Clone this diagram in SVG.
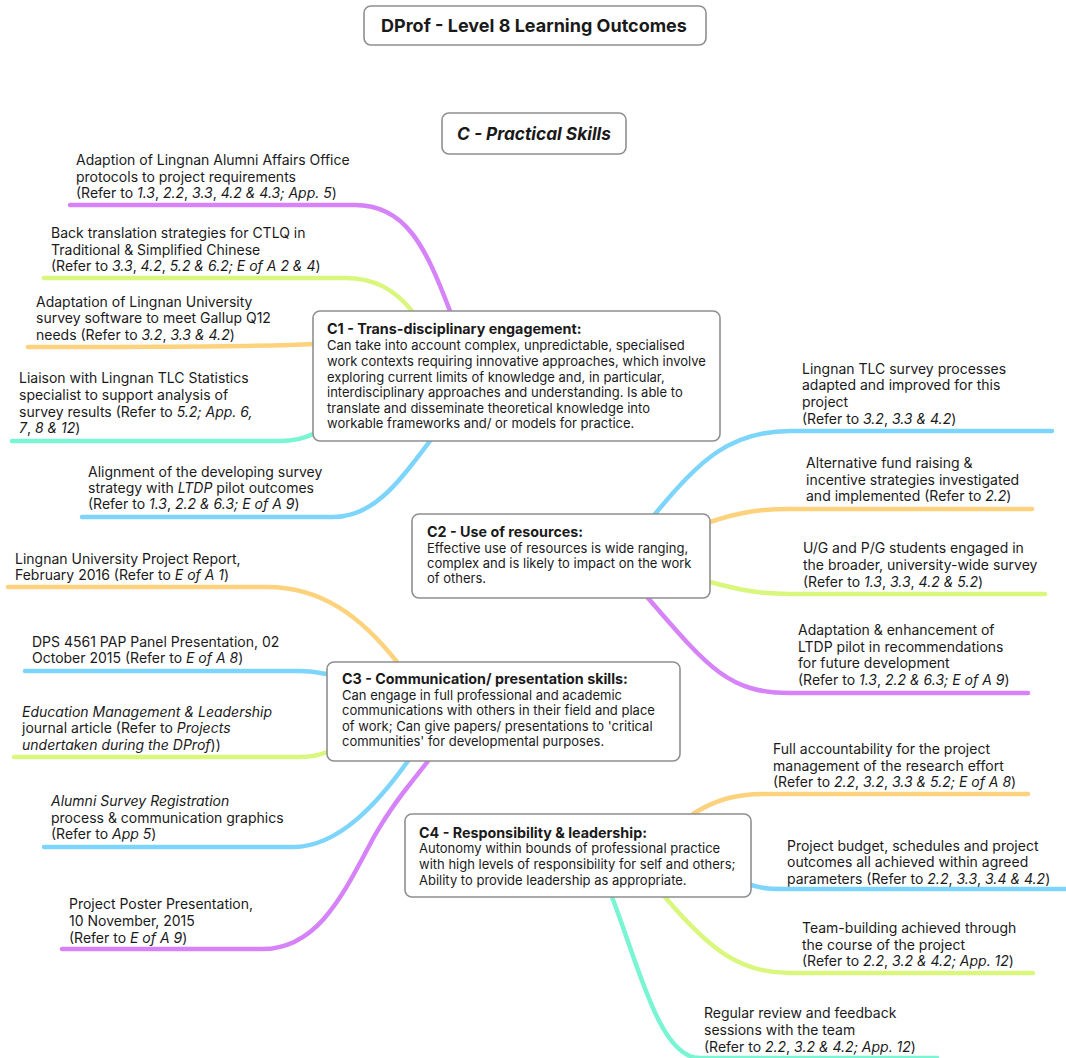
<svg xmlns="http://www.w3.org/2000/svg" width="1066" height="1058" viewBox="0 0 1066 1058">
  <style>
    text { font-family: Inter, "Liberation Sans", Arial, sans-serif; fill: #1a1a1a; }
    .leaf { font-size: 14px; }
    .body { font-size: 13px; }
    .head { font-size: 14.3px; font-weight: bold; }
    .top { font-size: 18px; font-weight: bold; }
    .sub { font-size: 17.3px; font-weight: bold; font-style: italic; }
    .i { font-style: italic; }
    .box { fill: #ffffff; stroke: #8f8f8f; stroke-width: 1.6; }
    .ln { fill: none; stroke-width: 4.5; stroke-linecap: round; }
    .purple { stroke: #d683f9; }
    .green { stroke: #d8f77c; }
    .orange { stroke: #fdd27c; }
    .teal { stroke: #79f5d4; }
    .blue { stroke: #7dd5fb; }
  </style>
  <rect width="1066" height="1058" fill="#ffffff"/>

  <!-- branch lines -->
  <g id="connectors">
    <path class="ln purple" d="M70,205 H355 C405,205 425,245 450,311"/>
    <path class="ln green" d="M44,278 H345 C375,278 395,290 412,311"/>
    <path class="ln orange" d="M28,347 C200,347 280,346 313,344"/>
    <path class="ln teal" d="M12,441 H280 C295,441 305,438 313,434"/>
    <path class="ln blue" d="M82,517 H333 C375,517 400,480 430,441"/>
    <path class="ln blue" d="M655,514 C700,460 730,431 790,431 H1052"/>
    <path class="ln orange" d="M710,522 C740,512 760,509 790,509 H1032"/>
    <path class="ln green" d="M710,582 C740,590 760,594 790,594 H1045"/>
    <path class="ln purple" d="M648,598 C710,670 730,693 790,693 H1028"/>
    <path class="ln orange" d="M8,587 H267 C320,587 360,615 397,662"/>
    <path class="ln blue" d="M25,671 H300 C312,671 320,673 327,674"/>
    <path class="ln green" d="M14,757 H300 C312,757 320,755 327,752"/>
    <path class="ln blue" d="M44,847 H293 C340,847 380,800 408,761"/>
    <path class="ln purple" d="M62,949 H262 C320,949 345,890 375,835 C395,800 410,785 428,761"/>
    <path class="ln orange" d="M693,814 C715,800 735,794 765,794 H1028"/>
    <path class="ln blue" d="M751,885 C765,889 770,889 790,889 H1066"/>
    <path class="ln green" d="M665,897 C710,950 740,973 790,973 H1033"/>
    <path class="ln teal" d="M612,897 C640,970 660,1058 700,1058 H937"/>
  </g>

  <g id="title">
    <rect class="box" x="364" y="6" width="342" height="39" rx="7"/>
    <text class="top" x="534" y="32" text-anchor="middle">DProf - Level 8 Learning Outcomes</text>
  </g>

  <g id="practical-skills">
    <rect class="box" x="442" y="113" width="184" height="41" rx="7"/>
    <text class="sub" x="534" y="140" text-anchor="middle">C - Practical Skills</text>
  </g>

  <g id="c1">
    <rect class="box" x="313" y="311" width="407" height="130" rx="7"/>
    <text class="head" x="327" y="334">C1 - Trans-disciplinary engagement:</text>
    <text class="body" x="327">
      <tspan x="327" y="350">Can take into account complex, unpredictable, specialised</tspan>
      <tspan x="327" y="366">work contexts requiring innovative approaches, which involve</tspan>
      <tspan x="327" y="382">exploring current limits of knowledge and, in particular,</tspan>
      <tspan x="327" y="397">interdisciplinary approaches and understanding. Is able to</tspan>
      <tspan x="327" y="413">translate and disseminate theoretical knowledge into</tspan>
      <tspan x="327" y="428">workable frameworks and/ or models for practice.</tspan>
    </text>
  </g>

  <g id="c2">
    <rect class="box" x="412" y="514" width="298" height="84" rx="7"/>
    <text class="head" x="427" y="537">C2 - Use of resources:</text>
    <text class="body">
      <tspan x="427" y="553">Effective use of resources is wide ranging,</tspan>
      <tspan x="427" y="568">complex and is likely to impact on the work</tspan>
      <tspan x="427" y="583">of others.</tspan>
    </text>
  </g>

  <g id="c3">
    <rect class="box" x="327" y="662" width="353" height="99" rx="7"/>
    <text class="head" x="342" y="684">C3 - Communication/ presentation skills:</text>
    <text class="body">
      <tspan x="342" y="700">Can engage in full professional and academic</tspan>
      <tspan x="342" y="715">communications with others in their field and place</tspan>
      <tspan x="342" y="731">of work; Can give papers/ presentations to 'critical</tspan>
      <tspan x="342" y="746">communities' for developmental purposes.</tspan>
    </text>
  </g>

  <g id="c4">
    <rect class="box" x="405" y="814" width="346" height="83" rx="7"/>
    <text class="head" x="419" y="838">C4 - Responsibility &amp; leadership:</text>
    <text class="body">
      <tspan x="419" y="853">Autonomy within bounds of professional practice</tspan>
      <tspan x="419" y="869">with high levels of responsibility for self and others;</tspan>
      <tspan x="419" y="885">Ability to provide leadership as appropriate.</tspan>
    </text>
  </g>

  <g id="c1-alumni-protocols">
    <text class="leaf">
      <tspan x="76" y="165">Adaption of Lingnan Alumni Affairs Office</tspan>
      <tspan x="76" y="182">protocols to project requirements</tspan>
      <tspan x="76" y="198">(Refer to <tspan class="i">1.3</tspan>, <tspan class="i">2.2</tspan>, <tspan class="i">3.3</tspan>, <tspan class="i">4.2 &amp; 4.3; App. 5</tspan>)</tspan>
    </text>
  </g>

  <g id="c1-back-translation">
    <text class="leaf">
      <tspan x="51" y="238">Back translation strategies for CTLQ in</tspan>
      <tspan x="51" y="255">Traditional &amp; Simplified Chinese</tspan>
      <tspan x="51" y="271">(Refer to <tspan class="i">3.3</tspan>, <tspan class="i">4.2</tspan>, <tspan class="i">5.2 &amp; 6.2; E of A 2 &amp; 4</tspan>)</tspan>
    </text>
  </g>

  <g id="c1-survey-software">
    <text class="leaf">
      <tspan x="36" y="307">Adaptation of Lingnan University</tspan>
      <tspan x="36" y="323">survey software to meet Gallup Q12</tspan>
      <tspan x="36" y="340">needs (Refer to <tspan class="i">3.2</tspan>, <tspan class="i">3.3 &amp; 4.2</tspan>)</tspan>
    </text>
  </g>

  <g id="c1-statistics-liaison">
    <text class="leaf">
      <tspan x="19" y="383">Liaison with Lingnan TLC Statistics</tspan>
      <tspan x="19" y="400">specialist to support analysis of</tspan>
      <tspan x="19" y="417">survey results (Refer to <tspan class="i">5.2; App. 6,</tspan></tspan>
      <tspan x="19" y="433"><tspan class="i">7</tspan>, <tspan class="i">8 &amp; 12</tspan>)</tspan>
    </text>
  </g>

  <g id="c1-ltdp-alignment">
    <text class="leaf">
      <tspan x="88" y="477">Alignment of the developing survey</tspan>
      <tspan x="88" y="493">strategy with <tspan class="i">LTDP</tspan> pilot outcomes</tspan>
      <tspan x="88" y="509">(Refer to <tspan class="i">1.3</tspan>, <tspan class="i">2.2 &amp; 6.3; E of A 9</tspan>)</tspan>
    </text>
  </g>

  <g id="c2-tlc-processes">
    <text class="leaf">
      <tspan x="802" y="374">Lingnan TLC survey processes</tspan>
      <tspan x="802" y="390">adapted and improved for this</tspan>
      <tspan x="802" y="407">project</tspan>
      <tspan x="802" y="424">(Refer to <tspan class="i">3.2</tspan>, <tspan class="i">3.3 &amp; 4.2</tspan>)</tspan>
    </text>
  </g>

  <g id="c2-fund-raising">
    <text class="leaf">
      <tspan x="806" y="468">Alternative fund raising &amp;</tspan>
      <tspan x="806" y="485">incentive strategies investigated</tspan>
      <tspan x="806" y="501">and implemented (Refer to <tspan class="i">2.2</tspan>)</tspan>
    </text>
  </g>

  <g id="c2-students">
    <text class="leaf">
      <tspan x="803" y="553">U/G and P/G students engaged in</tspan>
      <tspan x="803" y="570">the broader, university-wide survey</tspan>
      <tspan x="803" y="587">(Refer to <tspan class="i">1.3</tspan>, <tspan class="i">3.3</tspan>, <tspan class="i">4.2 &amp; 5.2</tspan>)</tspan>
    </text>
  </g>

  <g id="c2-ltdp-enhancement">
    <text class="leaf">
      <tspan x="798" y="635">Adaptation &amp; enhancement of</tspan>
      <tspan x="798" y="652">LTDP pilot in recommendations</tspan>
      <tspan x="798" y="668">for future development</tspan>
      <tspan x="798" y="685">(Refer to <tspan class="i">1.3</tspan>, <tspan class="i">2.2 &amp; 6.3; E of A 9</tspan>)</tspan>
    </text>
  </g>

  <g id="c3-project-report">
    <text class="leaf">
      <tspan x="15" y="564">Lingnan University Project Report,</tspan>
      <tspan x="15" y="580">February 2016 (Refer to <tspan class="i">E of A 1</tspan>)</tspan>
    </text>
  </g>

  <g id="c3-panel-presentation">
    <text class="leaf">
      <tspan x="32" y="647">DPS 4561 PAP Panel Presentation, 02</tspan>
      <tspan x="32" y="663">October 2015 (Refer to <tspan class="i">E of A 8</tspan>)</tspan>
    </text>
  </g>

  <g id="c3-journal-article">
    <text class="leaf">
      <tspan x="22" y="717" class="i">Education Management &amp; Leadership</tspan>
      <tspan x="22" y="733">journal article (Refer to <tspan class="i">Projects</tspan></tspan>
      <tspan x="22" y="750"><tspan class="i">undertaken during the DProf</tspan>))</tspan>
    </text>
  </g>

  <g id="c3-alumni-registration">
    <text class="leaf">
      <tspan x="51" y="806" class="i">Alumni Survey Registration</tspan>
      <tspan x="51" y="823">process &amp; communication graphics</tspan>
      <tspan x="51" y="839">(Refer to <tspan class="i">App 5</tspan>)</tspan>
    </text>
  </g>

  <g id="c3-poster">
    <text class="leaf">
      <tspan x="69" y="909">Project Poster Presentation,</tspan>
      <tspan x="69" y="926">10 November, 2015</tspan>
      <tspan x="69" y="943">(Refer to <tspan class="i">E of A 9</tspan>)</tspan>
    </text>
  </g>

  <g id="c4-accountability">
    <text class="leaf">
      <tspan x="773" y="754">Full accountability for the project</tspan>
      <tspan x="773" y="771">management of the research effort</tspan>
      <tspan x="773" y="787">(Refer to <tspan class="i">2.2</tspan>, <tspan class="i">3.2</tspan>, <tspan class="i">3.3 &amp; 5.2; E of A 8</tspan>)</tspan>
    </text>
  </g>

  <g id="c4-budget">
    <text class="leaf">
      <tspan x="787" y="851">Project budget, schedules and project</tspan>
      <tspan x="787" y="867">outcomes all achieved within agreed</tspan>
      <tspan x="787" y="884">parameters (Refer to <tspan class="i">2.2</tspan>, <tspan class="i">3.3</tspan>, <tspan class="i">3.4 &amp; 4.2</tspan>)</tspan>
    </text>
  </g>

  <g id="c4-team-building">
    <text class="leaf">
      <tspan x="802" y="933">Team-building achieved through</tspan>
      <tspan x="802" y="950">the course of the project</tspan>
      <tspan x="802" y="966">(Refer to <tspan class="i">2.2</tspan>, <tspan class="i">3.2 &amp; 4.2; App. 12</tspan>)</tspan>
    </text>
  </g>

  <g id="c4-review">
    <text class="leaf">
      <tspan x="704" y="1018">Regular review and feedback</tspan>
      <tspan x="704" y="1035">sessions with the team</tspan>
      <tspan x="704" y="1052">(Refer to <tspan class="i">2.2</tspan>, <tspan class="i">3.2 &amp; 4.2; App. 12</tspan>)</tspan>
    </text>
  </g>
</svg>
